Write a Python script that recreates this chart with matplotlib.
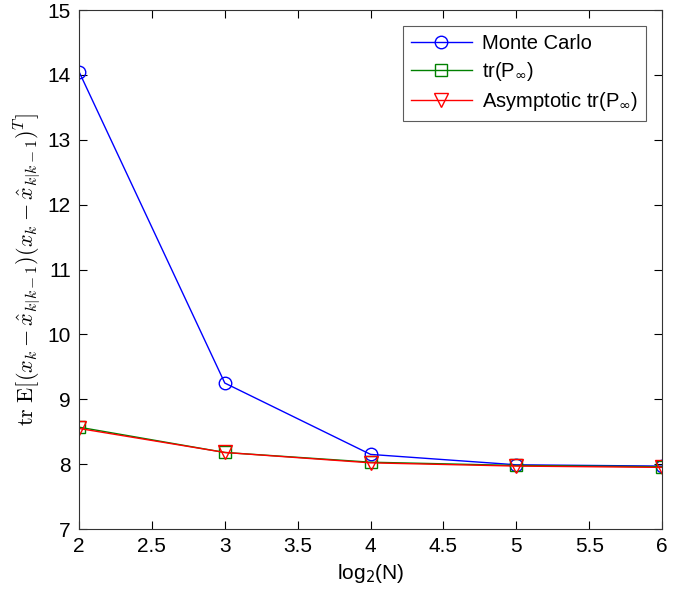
import matplotlib
matplotlib.use("Agg")
import matplotlib.pyplot as plt

plt.rcParams['font.family'] = ['Liberation Sans', 'DejaVu Sans']

log2N = [2, 3, 4, 5, 6]
monte_carlo = [14.05, 9.25, 8.15, 7.99, 7.97]
tr_P = [8.57, 8.18, 8.03, 7.98, 7.96]
asymptotic = [8.55, 8.18, 8.02, 7.97, 7.95]

fig = plt.figure(figsize=(6.89, 5.92), dpi=100)
ax = fig.add_axes([0.1147, 0.1064, 0.961 - 0.1147, 0.983 - 0.1064])

ax.plot(log2N, monte_carlo, color='#0000ff', marker='o', markersize=9, mfc='none', lw=1, label='Monte Carlo')
ax.plot(log2N, tr_P, color='#008000', marker='s', markersize=8, mfc='none', lw=1, label=r'tr(P$_{\infty}$)')
ax.plot(log2N, asymptotic, color='#ff0000', marker='v', markersize=10, mfc='none', lw=1, label=r'Asymptotic tr(P$_{\infty}$)')

ax.set_xlim(2, 6)
ax.set_ylim(7, 15)
ax.set_xticks([2, 2.5, 3, 3.5, 4, 4.5, 5, 5.5, 6])
ax.set_xticklabels(['2', '2.5', '3', '3.5', '4', '4.5', '5', '5.5', '6'])
ax.set_yticks(range(7, 16))
ax.tick_params(direction='in', labelsize=15, top=True, right=True, length=6, width=0.8, pad=6)
for s in ax.spines.values():
    s.set_linewidth(0.8)
    s.set_color('#333333')

ax.set_xlabel(r'log$_2$(N)', fontsize=15, labelpad=4)
ax.set_ylabel(r'$\mathrm{tr\ E}[(x_k-\hat{x}_{k|k-1})(x_k-\hat{x}_{k|k-1})^T]$', fontsize=16,
              math_fontfamily='cm', labelpad=4)

leg = ax.legend(loc='upper right', fontsize=14.5, frameon=True, fancybox=False,
                edgecolor='#333333', borderaxespad=0.8, handlelength=3.0, labelspacing=0.35,
                borderpad=0.4, handletextpad=0.5)
leg.get_frame().set_linewidth(0.8)

fig.savefig('out.png', dpi=100)
